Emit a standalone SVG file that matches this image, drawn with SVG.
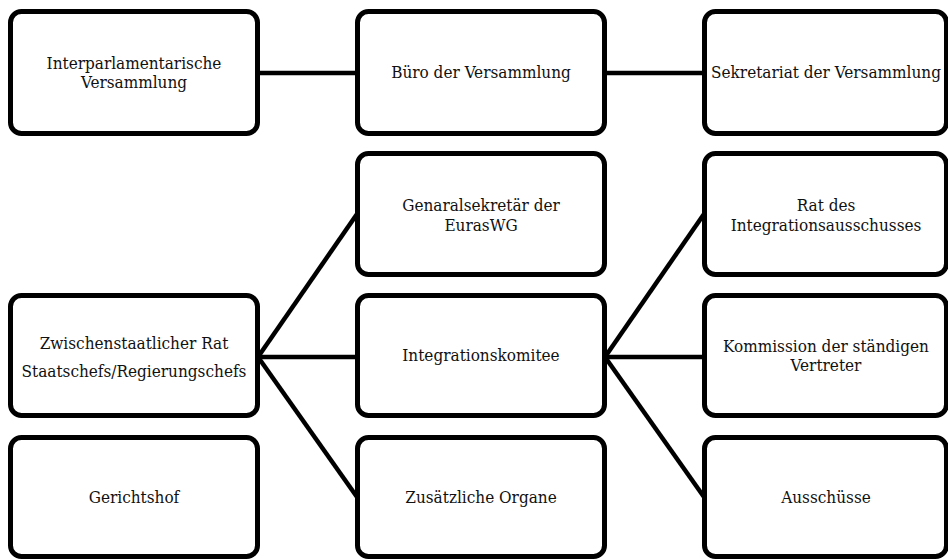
<svg xmlns="http://www.w3.org/2000/svg" width="948" height="560" viewBox="0 0 948 560">
<style>
.box{fill:#fff;stroke:#000;stroke-width:5}
.con{stroke:#000;stroke-width:4.5;fill:none}
text{font-family:"DejaVu Serif","Liberation Serif",serif;font-stretch:condensed;font-size:17px;fill:#111;text-anchor:middle}
</style>
<rect width="948" height="560" fill="#fff"/>
<g id="connectors">
<line class="con" x1="258" y1="73" x2="357" y2="73"/>
<line class="con" x1="605" y1="73" x2="704" y2="73"/>
<line class="con" x1="258" y1="357" x2="357" y2="214"/>
<line class="con" x1="258" y1="357" x2="357" y2="357"/>
<line class="con" x1="258" y1="357" x2="357" y2="497"/>
<line class="con" x1="605" y1="357" x2="704" y2="214"/>
<line class="con" x1="605" y1="357" x2="704" y2="357"/>
<line class="con" x1="605" y1="357" x2="704" y2="497"/>
</g>
<g id="n1"><rect class="box" x="10.5" y="11.5" width="247" height="122" rx="11"/><text x="134" y="68.5">Interparlamentarische</text><text x="134" y="88">Versammlung</text></g>
<g id="n2"><rect class="box" x="357.5" y="11.5" width="247" height="122" rx="11"/><text x="481" y="78">Büro der Versammlung</text></g>
<g id="n3"><rect class="box" x="704.5" y="11.5" width="242" height="122" rx="11"/><text x="826" y="78">Sekretariat der Versammlung</text></g>
<g id="n4"><rect class="box" x="357.5" y="153.5" width="247" height="121" rx="11"/><text x="481" y="211">Genaralsekretär der</text><text x="481" y="231">EurasWG</text></g>
<g id="n5"><rect class="box" x="704.5" y="153.5" width="242" height="121" rx="11"/><text x="826" y="211">Rat des</text><text x="826" y="231">Integrationsausschusses</text></g>
<g id="n6"><rect class="box" x="10.5" y="295.5" width="247" height="120" rx="11"/><text x="134" y="349">Zwischenstaatlicher Rat</text><text x="134" y="377">Staatschefs/Regierungschefs</text></g>
<g id="n7"><rect class="box" x="357.5" y="295.5" width="247" height="120" rx="11"/><text x="481" y="361">Integrationskomitee</text></g>
<g id="n8"><rect class="box" x="704.5" y="295.5" width="242" height="120" rx="11"/><text x="826" y="352">Kommission der ständigen</text><text x="826" y="371">Vertreter</text></g>
<g id="n9"><rect class="box" x="10.5" y="437.5" width="247" height="119" rx="11"/><text x="134" y="503">Gerichtshof</text></g>
<g id="n10"><rect class="box" x="357.5" y="437.5" width="247" height="119" rx="11"/><text x="481" y="503">Zusätzliche Organe</text></g>
<g id="n11"><rect class="box" x="704.5" y="437.5" width="242" height="119" rx="11"/><text x="826" y="503">Ausschüsse</text></g>
</svg>
